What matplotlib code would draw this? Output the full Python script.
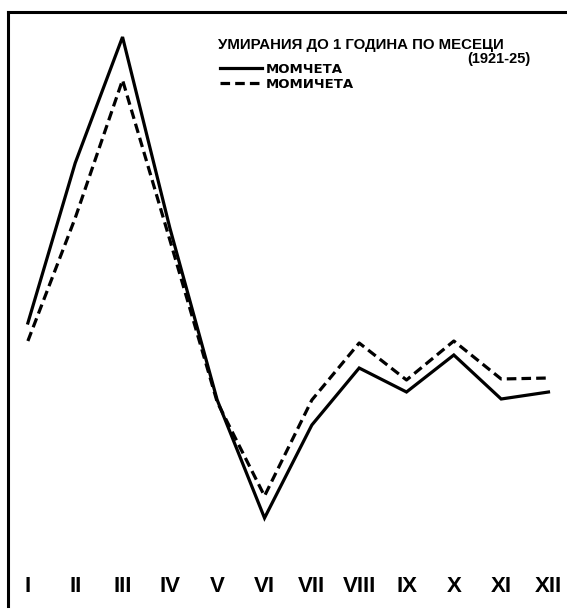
import matplotlib.pyplot as plt

# Умирания до 1 година по месеци (1921-25)
meseci = ["I", "II", "III", "IV", "V", "VI", "VII", "VIII", "IX", "X", "XI", "XII"]
momcheta = [55.4, 87.4, 112.6, 74.4, 40.0, 16.4, 35.0, 46.4, 41.6, 49.0, 40.2, 41.6]
momicheta = [51.8, 76.4, 104.0, 72.0, 39.6, 20.8, 40.0, 51.4, 44.0, 51.8, 44.2, 44.4]

naslov = "УМИРАНИЯ ДО 1 ГОДИНА ПО МЕСЕЦИ"
period = "(1921-25)"

fig = plt.figure(figsize=(5.67, 6.09), dpi=100)
ax = fig.add_axes([8 / 567, 3 / 609, 558 / 567, 594 / 609])

x = list(range(len(meseci)))
ax.plot(x, momcheta, color="black", lw=2.3, solid_joinstyle="miter", label="МОМЧЕТА")
ax.plot(x, momicheta, color="black", lw=2.3, linestyle=(0, (3.0, 1.6)), label="МОМИЧЕТА")

# римски цифри за месеците долу в графиката
for i, m in enumerate(meseci):
    ax.text(i, 2.6, m, ha="center", va="center", fontsize=16, fontweight="bold",
            family="Liberation Sans")

ax.set_xlim(-0.42, 11.37)
ax.set_ylim(-1.2, 117.6)
ax.set_xticks([])
ax.set_yticks([])
ax.spines["right"].set_visible(False)
ax.spines["bottom"].set_visible(False)
ax.spines["left"].set_linewidth(2.2)
ax.spines["top"].set_linewidth(2.2)

fig.text(218 / 567, 1 - 45 / 609, naslov, ha="left", va="center", fontsize=10.8,
         fontweight="bold", family="Liberation Sans")
fig.text(530 / 567, 1 - 59 / 609, period, ha="right", va="center", fontsize=10.5,
         fontweight="bold", family="Liberation Sans")

leg = ax.legend(loc="upper left", bbox_to_anchor=(220 / 567, 1 - 63 / 609),
                bbox_transform=fig.transFigure, frameon=False, handlelength=3.2,
                handletextpad=0.3, labelspacing=0.15, borderaxespad=0, borderpad=0,
                prop={"family": "DejaVu Sans", "weight": "bold", "size": 9.5})

plt.savefig("out.png")
plt.close()
